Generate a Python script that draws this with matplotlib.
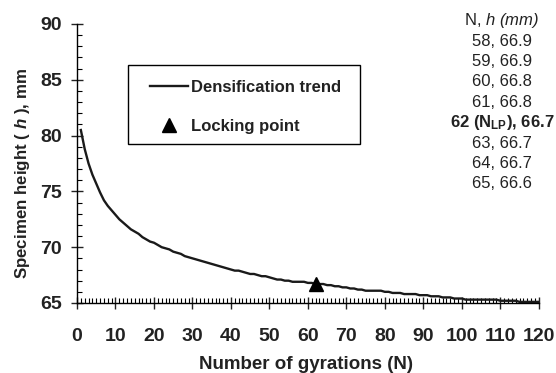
import numpy as np
import matplotlib
matplotlib.use('Agg')
import matplotlib.pyplot as plt
from matplotlib.patches import Rectangle
from matplotlib.ticker import MultipleLocator

plt.rcParams['font.family'] = ['Liberation Sans', 'DejaVu Sans']
plt.rcParams['mathtext.fontset'] = 'custom'
plt.rcParams['mathtext.rm'] = 'Liberation Sans:bold'
plt.rcParams['mathtext.bf'] = 'Liberation Sans:bold'
plt.rcParams['mathtext.it'] = 'Liberation Sans:bold:italic'
plt.rcParams['mathtext.sf'] = 'Liberation Sans:italic'

# specimen height (mm) for gyrations 1..120
heights = [
    80.5, 78.8, 77.5, 76.5, 75.7, 74.9, 74.2, 73.7, 73.3, 72.9,
    72.5, 72.2, 71.9, 71.6, 71.4, 71.2, 70.9, 70.7, 70.5, 70.4,
    70.2, 70.0, 69.9, 69.8, 69.6, 69.5, 69.4, 69.2, 69.1, 69.0,
    68.9, 68.8, 68.7, 68.6, 68.5, 68.4, 68.3, 68.2, 68.1, 68.0,
    67.9, 67.9, 67.8, 67.7, 67.6, 67.6, 67.5, 67.4, 67.4, 67.3,
    67.2, 67.1, 67.1, 67.0, 67.0, 66.9, 66.9, 66.9, 66.9, 66.8,
    66.8, 66.7, 66.7, 66.7, 66.6, 66.6, 66.5, 66.5, 66.4, 66.4,
    66.3, 66.3, 66.2, 66.2, 66.1, 66.1, 66.1, 66.1, 66.1, 66.0,
    66.0, 65.9, 65.9, 65.9, 65.8, 65.8, 65.8, 65.8, 65.7, 65.7,
    65.7, 65.6, 65.6, 65.6, 65.5, 65.5, 65.5, 65.4, 65.4, 65.4,
    65.3, 65.3, 65.3, 65.3, 65.3, 65.3, 65.3, 65.3, 65.3, 65.2,
    65.2, 65.2, 65.2, 65.2, 65.1, 65.1, 65.1, 65.1, 65.1, 65.1,
]
gyrations = np.arange(1, len(heights) + 1)

lp_n = 62
lp_h = 66.7

table_n = [58, 59, 60, 61, 62, 63, 64, 65]
table_h = [66.9, 66.9, 66.8, 66.8, 66.7, 66.7, 66.7, 66.6]

fig = plt.figure(figsize=(5.56, 3.73), dpi=100)
ax = fig.add_axes([0.1385, 0.1877, 0.8305, 0.748])

ax.plot(gyrations, heights, color='#1a1a1a', lw=1.7, label='Densification trend')
ax.plot([lp_n], [lp_h], ls='none', marker='^', color='black', ms=9.5, label='Locking point')

ax.set_xlim(0, 120)
ax.set_ylim(65, 90)
ax.xaxis.set_major_locator(MultipleLocator(10))
ax.xaxis.set_minor_locator(MultipleLocator(1))
ax.yaxis.set_major_locator(MultipleLocator(5))
ax.yaxis.set_minor_locator(MultipleLocator(1))
for s in ['top', 'right']:
    ax.spines[s].set_visible(False)
for s in ['left', 'bottom']:
    ax.spines[s].set_linewidth(1.0)
ax.tick_params(which='major', direction='inout', length=8, width=1,
               labelsize=14, colors='#222222')
ax.tick_params(which='minor', direction='in', length=3.5, width=0.8)
ax.tick_params(axis='x', pad=14)
ax.tick_params(axis='y', pad=7)
for lab in ax.get_xticklabels() + ax.get_yticklabels():
    lab.set_fontweight('bold')

ax.set_xlabel('Number of gyrations (N)', fontsize=13.5, fontweight='bold', color='#222222')
ax.set_ylabel('Specimen height ( $h$ ), mm', fontsize=12.2, fontweight='bold', color='#222222')
ax.xaxis.set_label_coords(0.497, -0.19)
ax.yaxis.set_label_coords(-0.0985, 0.465)

# legend without its own frame, box drawn separately
leg = ax.legend(loc='upper left', bbox_to_anchor=(150 / 556, 1 - 80 / 373),
                bbox_transform=fig.transFigure, frameon=False,
                prop={'weight': 'bold', 'size': 12},
                handlelength=2.25, handletextpad=0.2, labelspacing=1.45,
                borderpad=0, borderaxespad=0, numpoints=1)
for t in leg.get_texts():
    t.set_color('#222222')
fig.patches.append(Rectangle((128 / 556, 1 - 144 / 373), 232 / 556, 79 / 373,
                             transform=fig.transFigure, fill=False,
                             edgecolor='black', lw=1.0))

# small table of values round the locking point
x_tab = 502 / 556
fig.text(x_tab, 1 - 20 / 373, 'N, $\\mathsf{h\\ (mm)}$', ha='center', va='center',
         fontsize=12, color='#222222')
for i, (n, h) in enumerate(zip(table_n, table_h)):
    y = 1 - (41 + i * 20.4) / 373
    if n == lp_n:
        fig.text(x_tab, y, '%d (N$_{\\mathregular{LP}}$), %.1f' % (n, h), ha='center', va='center',
                 fontsize=12, fontweight='bold', color='#222222')
    else:
        fig.text(x_tab, y, '%d, %.1f' % (n, h), ha='center', va='center', fontsize=12,
                 color='#222222')

fig.savefig('out.png', dpi=100)
